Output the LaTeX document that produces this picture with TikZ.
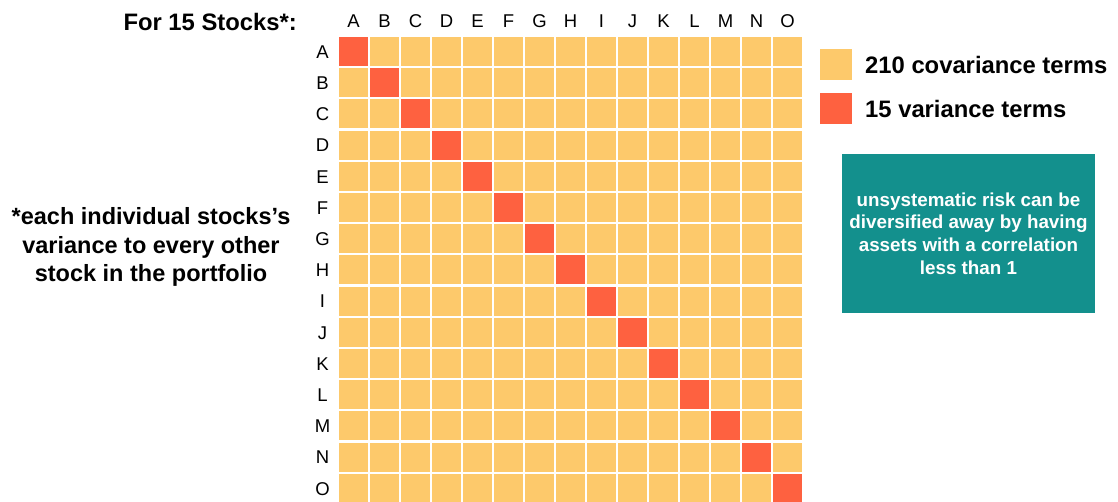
\documentclass[tikz,border=0pt]{standalone}
\usepackage{fontspec}
\setmainfont{Liberation Sans}
\usepackage{tikz}
\usetikzlibrary{positioning}

\definecolor{covyellow}{HTML}{FDC96B}
\definecolor{varred}{HTML}{FE6140}
\definecolor{noteteal}{HTML}{13908D}

\begin{document}
\begin{tikzpicture}[x=1pt, y=-1pt,
    cell/.style={fill=covyellow, draw=none},
    diag/.style={fill=varred, draw=none},
    axislabel/.style={font=\fontsize{18.5}{20}\selectfont, inner sep=0pt},
    legendtext/.style={font=\fontsize{23.8}{26}\selectfont\bfseries, anchor=west, inner sep=0pt}]
    \useasboundingbox (0,0) rectangle (1118,502);

    % grid of covariance cells, variance on the diagonal
    \foreach \r [count=\i from 0] in {A,B,C,D,E,F,G,H,I,J,K,L,M,N,O} {
        \node[axislabel] (col\r) at (353.5+31*\i,21.5) {\r};
        \node[axislabel] (row\r) at (322.5,52+31.2*\i) {\r};
        \foreach \j in {0,...,14} {
            \ifnum\i=\j
                \fill[diag] (339+31*\j,37+31.2*\i) rectangle ++(29,29);
            \else
                \fill[cell] (339+31*\j,37+31.2*\i) rectangle ++(29,29);
            \fi
        }
    }

    \node[font=\fontsize{23.8}{26}\selectfont\bfseries, anchor=east, inner sep=0pt] (title) at (297,22) {For 15 Stocks*:};

    \node[font=\fontsize{23.5}{28.5}\selectfont\bfseries, align=center, inner sep=0pt] (footnote) at (151,247)
        {*each individual stocks’s\\ variance to every other\\ stock in the portfolio};

    % legend
    \fill[cell] (820,49) rectangle (852,80);
    \node[legendtext] (covtext) at (865,64.5) {210 covariance terms};
    \fill[diag] (820,93) rectangle (852,124);
    \node[legendtext] (vartext) at (865,109) {15 variance terms};

    \node[fill=noteteal, minimum width=253pt, minimum height=159pt, text=white, align=center,
          font=\fontsize{18.8}{22.7}\selectfont\bfseries, inner sep=0pt] (note) at (968.5,233.5)
        {unsystematic risk can be\\ diversified away by having\\ assets with a correlation\\ less than 1};
\end{tikzpicture}
\end{document}
